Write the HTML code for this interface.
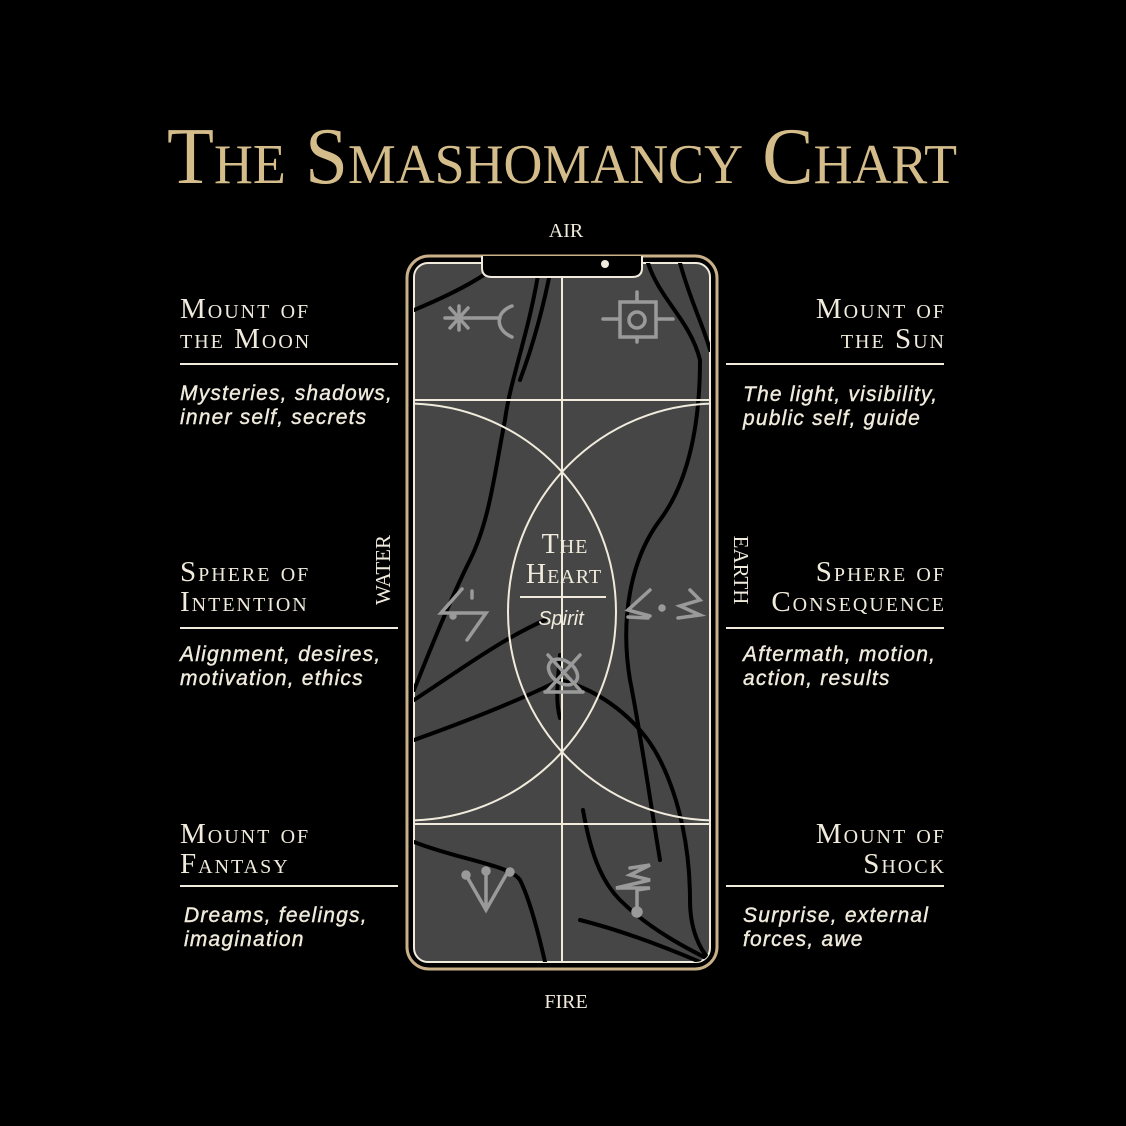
<!DOCTYPE html>
<html><head><meta charset="utf-8"><style>
html,body{margin:0;padding:0;background:#000;}
svg{display:block}
.sc{font-family:"Liberation Serif",serif;font-variant:small-caps;fill:#f0ebdc;}
.lb{letter-spacing:2px;}
.d{font-family:"Liberation Sans",sans-serif;font-style:italic;fill:#f0ebdc;font-size:21px;letter-spacing:1.2px;stroke:#f0ebdc;stroke-width:0.4px;}
</style></head><body>
<svg width="1126" height="1126" viewBox="0 0 1126 1126" xmlns="http://www.w3.org/2000/svg">
<rect width="1126" height="1126" fill="#000"/>
<text x="562" y="183" text-anchor="middle" class="sc" style="fill:#d4bd8a;font-size:80px" textLength="790" lengthAdjust="spacingAndGlyphs">The Smashomancy Chart</text>
<text x="566" y="237" text-anchor="middle" font-family="Liberation Serif,serif" font-size="20" fill="#f0ebdc">AIR</text>
<text x="566" y="1008" text-anchor="middle" font-family="Liberation Serif,serif" font-size="20" fill="#f0ebdc">FIRE</text>

<defs><clipPath id="c"><rect x="414" y="263" width="296" height="699" rx="14"/></clipPath></defs>
<rect x="407" y="256" width="310" height="713" rx="22" fill="#000" stroke="#c9b088" stroke-width="3"/>
<rect x="414" y="263" width="296" height="699" rx="14" fill="#464646" stroke="#f0ebdc" stroke-width="2"/>
<g clip-path="url(#c)" fill="none" stroke="#000" stroke-width="4" stroke-linecap="round">
<path d="M414 310 C450 295 480 280 500 263"/>
<path d="M540 263 C530 330 510 380 505 420 C495 470 490 520 470 560 C450 600 430 650 414 690"/>
<path d="M552 263 C545 300 535 340 520 380"/>
<path d="M414 740 C470 720 520 700 560 680 C600 690 640 720 660 760 C680 800 690 850 690 900 C690 930 700 950 710 960"/>
<path d="M414 700 C460 670 500 640 545 620"/>
<path d="M648 263 C660 300 690 320 700 360 C700 420 690 480 660 520 C630 560 620 620 630 680 C640 730 650 800 660 860"/>
<path d="M680 263 C690 300 705 330 710 350"/>
<path d="M414 842 C460 860 510 865 520 880 C530 900 540 940 545 962"/>
<path d="M583 810 C590 850 600 880 620 900 C650 930 690 950 710 960"/>
<path d="M580 920 C620 930 660 945 700 962"/>
<path d="M560 655 C558 680 555 700 560 718"/>
</g>
<g clip-path="url(#c)" fill="none" stroke="#f0ebdc" stroke-width="2">
<line x1="562" y1="263" x2="562" y2="962"/>
<line x1="414" y1="400" x2="710" y2="400"/>
<line x1="414" y1="824" x2="710" y2="824"/>
<circle cx="716.5" cy="612" r="208.5"/>
<circle cx="407.5" cy="612" r="208.5"/>
</g>
<path d="M482 256 L482 268 Q482 277 492 277 L632 277 Q642 277 642 268 L642 256" fill="#000" stroke="#f0ebdc" stroke-width="2"/>
<circle cx="605" cy="264" r="4" fill="#f0ebdc"/>
<g fill="none" stroke="#9a9a9a" stroke-width="3.5" stroke-linecap="round">
<path d="M445 318 L473 318 M450 308 L468 328 M468 308 L450 328 M459 306 L459 330 M473 318 L500 318 M512 306 C495 312 495 330 512 337"/>
<path d="M603 319 L620 319 L620 302 L656 302 L656 337 L620 337 L620 319 M656 319 L673 319 M637 292 L637 302 M637 337 L637 342"/>
<circle cx="637" cy="320" r="8"/>
<path d="M462 589 L441 613 L486 613 L467 640 M472 591 L472 598"/>
<path d="M650 590 L628 610 L650 616 M690 590 L700 600 L680 606 L700 615 L678 618 M628 617 L648 618"/>
<circle cx="662" cy="608" r="2" fill="#9a9a9a"/>
<circle cx="453" cy="616" r="2" fill="#9a9a9a"/>
<path d="M548 655 L580 690 M580 655 L548 690 M545 692 L583 692"/>
<ellipse cx="563" cy="672" rx="16" ry="11" transform="rotate(35 563 672)"/>
<path d="M466 875 L486 910 L506 875 M486 910 L486 870"/>
<circle cx="466" cy="875" r="3" fill="#9a9a9a"/><circle cx="486" cy="871" r="3" fill="#9a9a9a"/><circle cx="510" cy="872" r="3" fill="#9a9a9a"/>
<path d="M630 868 L650 865 L630 875 L650 880 L616 888 L650 888 L637 890 L637 912"/>
<circle cx="637" cy="912" r="4" fill="#9a9a9a"/>
</g>
<text x="565" y="553" text-anchor="middle" class="sc" font-size="28" letter-spacing="1">The</text>
<text x="564" y="583" text-anchor="middle" class="sc" font-size="28" letter-spacing="1">Heart</text>
<line x1="520" y1="597" x2="606" y2="597" stroke="#f0ebdc" stroke-width="2"/>
<text x="561" y="625" text-anchor="middle" font-family="Liberation Sans,sans-serif" font-style="italic" font-size="20" fill="#f0ebdc">Spirit</text>
<text transform="translate(390 570) rotate(-90)" text-anchor="middle" font-family="Liberation Serif,serif" font-size="21" fill="#f0ebdc">WATER</text>
<text transform="translate(734 570) rotate(90)" text-anchor="middle" font-family="Liberation Serif,serif" font-size="21" fill="#f0ebdc">EARTH</text>

<g stroke="#f0ebdc" stroke-width="2">
<line x1="180" y1="364" x2="398" y2="364"/><line x1="726" y1="364" x2="944" y2="364"/>
<line x1="180" y1="628" x2="398" y2="628"/><line x1="726" y1="628" x2="944" y2="628"/>
<line x1="180" y1="886" x2="398" y2="886"/><line x1="726" y1="886" x2="944" y2="886"/>
</g>
<g class="sc lb" font-size="29">
<text x="180" y="318">Mount of</text><text x="180" y="348">the Moon</text>
<text x="946" y="318" text-anchor="end">Mount of</text><text x="946" y="348" text-anchor="end">the Sun</text>
<text x="180" y="581">Sphere of</text><text x="180" y="611">Intention</text>
<text x="946" y="581" text-anchor="end">Sphere of</text><text x="946" y="611" text-anchor="end">Consequence</text>
<text x="180" y="843">Mount of</text><text x="180" y="873">Fantasy</text>
<text x="946" y="843" text-anchor="end">Mount of</text><text x="946" y="873" text-anchor="end">Shock</text>
</g>
<text class="d" x="180" y="400">Mysteries, shadows,</text><text class="d" x="180" y="424">inner self, secrets</text>
<text class="d" x="743" y="401">The light, visibility,</text><text class="d" x="743" y="425">public self, guide</text>
<text class="d" x="180" y="661">Alignment, desires,</text><text class="d" x="180" y="685">motivation, ethics</text>
<text class="d" x="743" y="661">Aftermath, motion,</text><text class="d" x="743" y="685">action, results</text>
<text class="d" x="184" y="922">Dreams, feelings,</text><text class="d" x="184" y="946">imagination</text>
<text class="d" x="743" y="922">Surprise, external</text><text class="d" x="743" y="946">forces, awe</text>
</svg>
</body></html>
